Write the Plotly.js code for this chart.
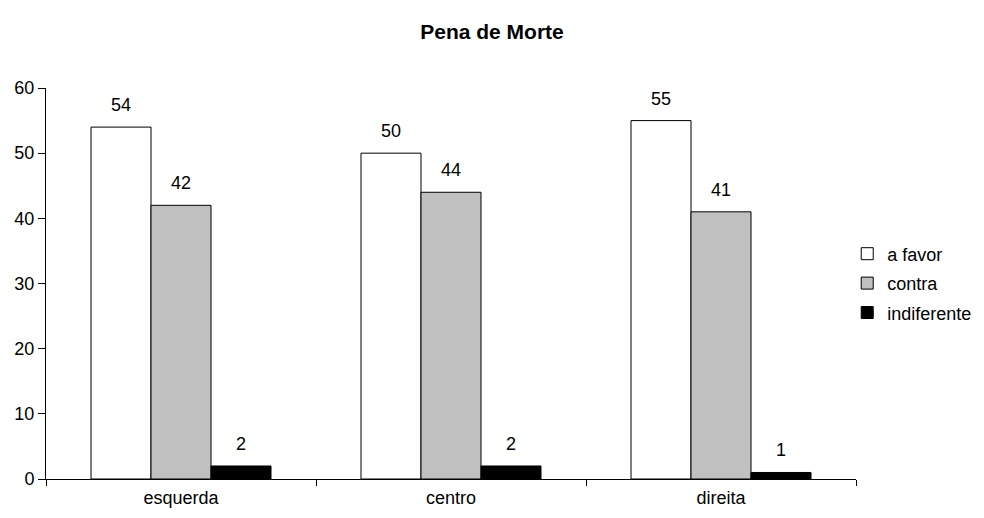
<!DOCTYPE html>
<html>
<head>
<meta charset="utf-8">
<script src="https://cdn.plot.ly/plotly-3.0.1.min.js"></script>
<style>html,body{margin:0;padding:0;background:#fff;}#chart{width:984px;height:518px;}</style>
</head>
<body>
<div id="chart"></div>
<script>
const categories = ["esquerda", "centro", "direita"];
const aFavor = [54, 50, 55];
const contra = [42, 44, 41];
const indiferente = [2, 2, 1];
const seriesNames = ["a favor", "contra", "indiferente"];
const seriesColors = ["#ffffff", "#c0c0c0", "#000000"];
const seriesValues = [aFavor, contra, indiferente];

const BARGAP = 1/3;
const nSeries = seriesValues.length;
const barW = (1 - BARGAP) / nSeries;
const FONT = "Liberation Sans, Arial, sans-serif";

const traces = seriesValues.map((vals, i) => ({
  type: "bar",
  name: seriesNames[i],
  x: categories,
  y: vals,
  legendgroup: "g" + i,
  marker: { color: seriesColors[i], line: { color: "#000000", width: 1 } },
  hoverinfo: "none"
}));

// value labels above each bar, placed through the axis scales
const annotations = [];
seriesValues.forEach((vals, i) => {
  vals.forEach((v, j) => {
    annotations.push({
      xref: "x", yref: "y",
      x: j - (1 - BARGAP) / 2 + barW * (i + 0.5),
      y: v,
      text: String(v),
      showarrow: false,
      yanchor: "middle", xanchor: "center",
      yshift: 22,
      font: { family: FONT, size: 18, color: "#000" }
    });
  });
});

const layout = {
  width: 984, height: 518,
  margin: { l: 46, r: 128, t: 88, b: 39, autoexpand: false },
  paper_bgcolor: "#ffffff", plot_bgcolor: "#ffffff",
  font: { family: FONT, size: 18, color: "#000" },
  title: { text: "<b>Pena de Morte</b>", x: 0.5, xanchor: "center", y: 0.938, yanchor: "middle",
           font: { size: 21, family: FONT, color: "#000" } },
  barmode: "group",
  bargap: BARGAP,
  bargroupgap: 0,
  annotations: annotations,
  xaxis: {
    showline: true, linecolor: "#000", linewidth: 1,
    ticks: "outside", ticklen: 6, tickcolor: "#000", tickson: "boundaries",
    ticklabelstandoff: 2, automargin: false,
    showgrid: false, zeroline: false,
    tickfont: { size: 18 }
  },
  yaxis: {
    range: [0, 60], dtick: 10, showline: true, linecolor: "#000", linewidth: 1,
    ticks: "outside", ticklen: 7, tickcolor: "#000", automargin: false,
    showgrid: false, zeroline: false,
    tickfont: { size: 18 }
  },
  legend: {
    xref: "container", x: 0.861, xanchor: "left", y: 0.5, yanchor: "middle",
    font: { size: 18 }, traceorder: "grouped", tracegroupgap: 3,
    itemwidth: 30, bgcolor: "rgba(0,0,0,0)"
  },
  showlegend: true
};

Plotly.newPlot("chart", traces, layout, { displayModeBar: false, staticPlot: true });
</script>
</body>
</html>
